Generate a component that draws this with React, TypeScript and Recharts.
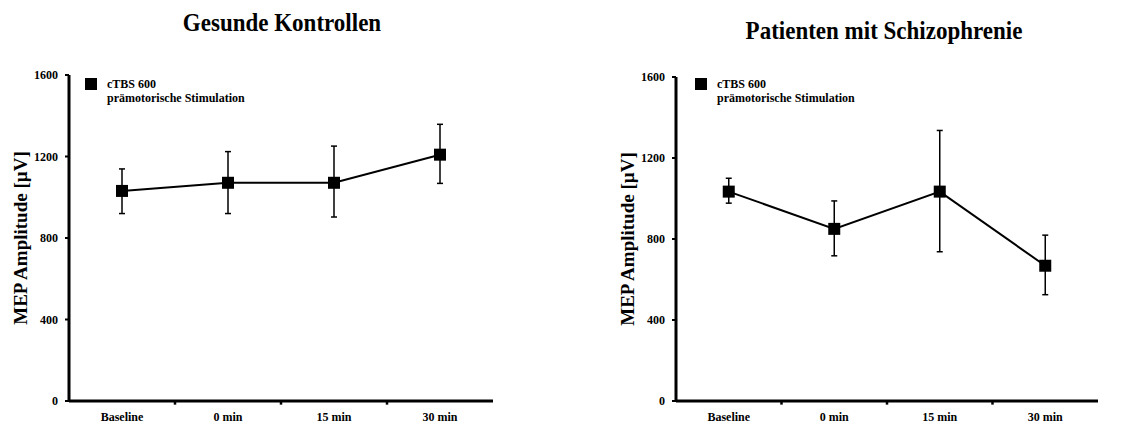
import React from 'react';
import { LineChart, Line, XAxis, YAxis, ErrorBar, ReferenceLine, Legend, Label } from 'recharts';

const categories = ['Baseline', '0 min', '15 min', '30 min'];
const yTicks = [0, 400, 800, 1200, 1600];
const boundaries = [1, 2, 3];

// Gesunde Kontrollen
const controlMean = [1031, 1071, 1071, 1209];
const controlUpper = [1139, 1224, 1251, 1358];
const controlLower = [920, 920, 903, 1068];

// Patienten mit Schizophrenie
const patientMean = [1034, 850, 1034, 668];
const patientUpper = [1100, 988, 1336, 819];
const patientLower = [977, 717, 737, 525];

const FONT = '"Liberation Serif", "Times New Roman", serif';

const buildData = (mean: number[], upper: number[], lower: number[]) =>
  categories.map((name, i) => ({
    name,
    pos: i + 0.5,
    value: mean[i],
    err: [mean[i] - lower[i], upper[i] - mean[i]],
  }));

const SquareDot = (props: any) => {
  const { cx, cy } = props;
  if (cx == null || cy == null) return null;
  return <rect x={cx - 6} y={cy - 6} width={12} height={12} fill="#000" />;
};

const renderYLabel = (props: any) => {
  const vb = props.viewBox || {};
  const x = vb.x + vb.width - 49;
  const y = vb.y + vb.height / 2;
  return (
    <text
      x={x}
      y={y}
      transform={`rotate(-90 ${x} ${y})`}
      textAnchor="middle"
      dominantBaseline="central"
      fontFamily={FONT}
      fontWeight="bold"
      fontSize={19}
      fill="#000"
    >
      MEP Amplitude [µV]
    </text>
  );
};

const LegendBox = () => (
  <div style={{ display: 'flex', alignItems: 'flex-start', fontFamily: FONT, fontWeight: 'bold', fontSize: 12, color: '#000' }}>
    <div style={{ width: 12, height: 12, background: '#000', marginTop: 1, marginRight: 10 }} />
    <div style={{ lineHeight: '14px' }}>
      <div>cTBS 600</div>
      <div>prämotorische Stimulation</div>
    </div>
  </div>
);

interface PanelProps {
  left: number;
  width: number;
  axisWidth: number;
  rightMargin: number;
  top: number;
  title: string;
  titleX: number;
  titleY: number;
  legendLeft: number;
  mean: number[];
  upper: number[];
  lower: number[];
}

const Panel: React.FC<PanelProps> = (p) => {
  const data = buildData(p.mean, p.upper, p.lower);
  return (
    <div style={{ position: 'absolute', left: p.left, top: 0, width: p.width, height: 425 }}>
      <div
        style={{
          position: 'absolute',
          left: p.titleX - 200,
          width: 400,
          top: p.titleY,
          textAlign: 'center',
          fontFamily: FONT,
          fontWeight: 'bold',
          fontSize: 25,
          color: '#000',
          transform: 'scaleX(0.92)',
          whiteSpace: 'nowrap',
        }}
      >
        {p.title}
      </div>
      <LineChart
        width={p.width}
        height={425}
        data={data}
        margin={{ top: p.top, right: p.rightMargin, bottom: 0, left: 0 }}
        style={{ position: 'absolute', left: 0, top: 0 }}
      >
        <XAxis
          dataKey="pos"
          type="number"
          domain={[0, 4]}
          ticks={[0.5, 1.5, 2.5, 3.5]}
          interval={0}
          tickFormatter={(v: number) => categories[Math.floor(v)]}
          height={24}
          tickLine={false}
          tickSize={0}
          tickMargin={11}
          axisLine={{ stroke: '#000', strokeWidth: 3 }}
          tick={{ fill: '#000', fontFamily: FONT, fontWeight: 'bold', fontSize: 12 }}
        />
        <YAxis
          domain={[0, 1600]}
          ticks={yTicks}
          interval={0}
          width={p.axisWidth}
          tickSize={4}
          tickMargin={7}
          tickLine={{ stroke: '#000', strokeWidth: 2 }}
          axisLine={{ stroke: '#000', strokeWidth: 3 }}
          tick={{ fill: '#000', fontFamily: FONT, fontWeight: 'bold', fontSize: 12 }}
        >
          <Label content={renderYLabel} />
        </YAxis>
        {boundaries.map((b) => (
          <ReferenceLine
            key={b}
            segment={[{ x: b, y: -18 }, { x: b, y: 0 }]}
            stroke="#000"
            strokeWidth={2.5}
            ifOverflow="visible"
          />
        ))}
        <Legend
          layout="horizontal"
          verticalAlign="middle"
          align="center"
          content={() => <LegendBox />}
          wrapperStyle={{ top: 77, left: p.legendLeft, width: 'auto' }}
        />
        <Line
          dataKey="value"
          stroke="#000"
          strokeWidth={2}
          dot={<SquareDot />}
          activeDot={false}
          isAnimationActive={false}
          legendType="square"
        >
          <ErrorBar dataKey="err" direction="y" width={3} stroke="#000" strokeWidth={1.5} />
        </Line>
      </LineChart>
    </div>
  );
};

export default function App() {
  return (
    <div style={{ position: 'absolute', left: 0, top: 0, width: 1134, height: 425, background: '#fff' }}>
      <Panel
        left={0}
        width={560}
        axisWidth={69}
        rightMargin={67}
        top={75}
        title="Gesunde Kontrollen"
        titleX={282}
        titleY={9}
        legendLeft={85}
        mean={controlMean}
        upper={controlUpper}
        lower={controlLower}
      />
      <Panel
        left={570}
        width={564}
        axisWidth={106}
        rightMargin={36}
        top={77}
        title="Patienten mit Schizophrenie"
        titleX={314}
        titleY={17}
        legendLeft={125}
        mean={patientMean}
        upper={patientUpper}
        lower={patientLower}
      />
    </div>
  );
}
